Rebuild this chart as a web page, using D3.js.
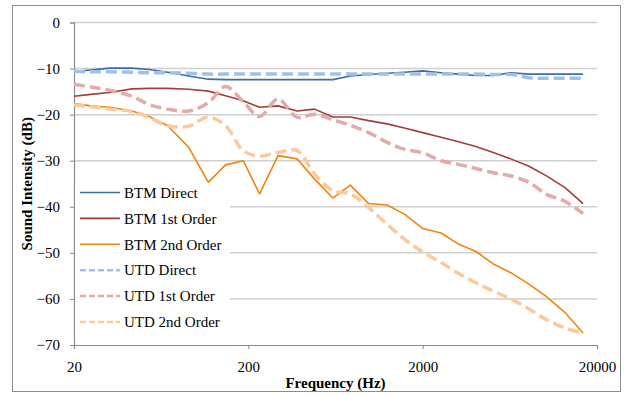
<!DOCTYPE html>
<html>
<head>
<meta charset="utf-8">
<script src="https://cdn.jsdelivr.net/npm/d3@7"></script>
<style>
  body { margin: 0; background: #fff; }
</style>
</head>
<body>
<svg id="chart" width="626" height="395"></svg>
<script>
// frequencies (Hz) of the plotted points
const freqs = [20, 25, 32, 43, 54, 69, 91, 118, 148, 187, 232, 296, 381, 480, 611, 769, 980, 1250, 1570, 2000, 2550, 3210, 4040, 5080, 6400, 8150, 10260, 13060, 16640];

const btmDirect = [-10.6, -10.3, -9.9, -9.9, -10.2, -10.8, -11.6, -12.3, -12.4, -12.4, -12.4, -12.4, -12.4, -12.4, -12.4, -11.6, -11.3, -11.0, -10.8, -10.5, -10.9, -11.2, -11.5, -11.5, -10.9, -11.2, -11.2, -11.2, -11.2];
const btmFirst = [-16.0, -15.6, -15.2, -14.4, -14.3, -14.3, -14.5, -14.9, -15.9, -17.0, -18.4, -18.1, -19.2, -18.8, -20.5, -20.5, -21.3, -22.0, -22.9, -23.9, -24.9, -25.9, -26.9, -28.2, -29.6, -31.2, -33.3, -35.8, -39.3];
const btmSecond = [-17.6, -18.1, -18.4, -19.2, -20.4, -22.4, -27.1, -34.7, -30.9, -30.0, -37.2, -28.9, -29.6, -34.0, -38.1, -35.3, -39.3, -39.6, -41.6, -44.7, -45.7, -48.1, -49.7, -52.4, -54.3, -56.8, -59.5, -62.9, -67.4];
const utdDirect = [-10.6, -10.7, -10.7, -10.8, -10.9, -10.9, -11.0, -11.2, -11.2, -11.2, -11.2, -11.2, -11.2, -11.2, -11.2, -11.2, -11.2, -11.2, -11.2, -11.2, -11.2, -11.2, -11.2, -11.3, -11.3, -12.0, -12.1, -12.1, -12.1];
const utdFirst = [-13.4, -14.0, -14.7, -16.0, -17.8, -18.8, -19.2, -17.4, -13.9, -17.2, -20.4, -16.6, -20.6, -19.9, -21.1, -22.3, -23.9, -26.0, -27.5, -28.3, -30.0, -30.8, -31.7, -32.6, -33.3, -34.7, -37.3, -38.8, -41.5];
const utdSecond = [-17.9, -18.3, -18.8, -19.3, -20.6, -22.4, -22.5, -20.5, -22.4, -27.8, -29.0, -28.2, -27.8, -32.9, -36.5, -37.2, -40.2, -43.8, -47.0, -49.8, -52.1, -54.5, -56.5, -58.3, -60.0, -62.2, -64.5, -66.3, -67.4];

const seriesNames = ['BTM Direct', 'BTM 1st Order', 'BTM 2nd Order', 'UTD Direct', 'UTD 1st Order', 'UTD 2nd Order'];
const xTicks = [20, 200, 2000, 20000];
const yTicks = [0, -10, -20, -30, -40, -50, -60, -70];

const FONT = '"Liberation Serif", "Times New Roman", Times, "DejaVu Serif", serif';

const series = [
  {name: seriesNames[0], values: btmDirect, color: '#3c6da6', width: 1.6, dash: null},
  {name: seriesNames[1], values: btmFirst, color: '#a33d3a', width: 1.6, dash: null},
  {name: seriesNames[2], values: btmSecond, color: '#f0850f', width: 1.6, dash: null},
  {name: seriesNames[3], values: utdDirect, color: '#9dc1e8', width: 3.5, dash: '11,5'},
  {name: seriesNames[4], values: utdFirst, color: '#e3aaa8', width: 3.5, dash: '11,5'},
  {name: seriesNames[5], values: utdSecond, color: '#fcc99c', width: 3.5, dash: '11,5'}
];

const svg = d3.select('#chart');

// chart border
svg.append('rect')
  .attr('x', 12.5).attr('y', 5.5)
  .attr('width', 608).attr('height', 386)
  .attr('fill', '#fff')
  .attr('stroke', '#8c8c8c')
  .attr('stroke-width', 1);

const x = d3.scaleLog().domain([20, 20000]).range([74, 597]);
const y = d3.scaleLinear().domain([-70, 0]).range([345, 22.5]);

// gridlines
svg.append('g')
  .selectAll('line').data(yTicks.filter(d => d > -70))
  .enter().append('line')
  .attr('x1', x(20)).attr('x2', x(20000))
  .attr('y1', d => y(d)).attr('y2', d => y(d))
  .attr('stroke', '#cfcfcf')
  .attr('stroke-width', 1.5);

// axes
const yAxis = svg.append('g')
  .attr('transform', `translate(${x(20)},0)`)
  .call(d3.axisLeft(y).tickValues(yTicks).tickSize(4).tickFormat(d3.format('d')));
const xAxis = svg.append('g')
  .attr('transform', `translate(0,${y(-70)})`)
  .call(d3.axisBottom(x).tickValues(xTicks).tickSize(4).tickFormat(d3.format('d')));

[yAxis, xAxis].forEach(a => {
  a.attr('font-family', FONT).attr('font-size', 15);
  a.select('.domain').attr('stroke', '#8a8a8a').attr('stroke-width', 1.2);
  a.selectAll('.tick line').attr('stroke', '#8a8a8a');
  a.selectAll('.tick text').attr('fill', '#000');
});
yAxis.selectAll('.tick text').attr('x', -14);
xAxis.selectAll('.tick text').attr('y', 16);

// legend box (white, hides gridlines behind it)
const legend = svg.append('g').attr('font-family', FONT);
legend.append('rect')
  .attr('x', 75).attr('y', 178)
  .attr('width', 155).attr('height', 162)
  .attr('fill', '#fff');

// lines
const line = d3.line()
  .x((d, i) => x(freqs[i]))
  .y(d => y(d));

series.forEach(s => {
  svg.append('path')
    .datum(s.values)
    .attr('fill', 'none')
    .attr('stroke', s.color)
    .attr('stroke-width', s.width)
    .attr('stroke-dasharray', s.dash)
    .attr('stroke-linejoin', 'round')
    .attr('d', line.curve(s.dash ? d3.curveCatmullRom : d3.curveLinear));
});

// legend entries
const rowY = d3.scalePoint().domain(seriesNames).range([192.5, 322]);
const items = legend.selectAll('g.item').data(series)
  .enter().append('g')
  .attr('transform', d => `translate(0,${rowY(d.name)})`);
items.append('line')
  .attr('x1', 80).attr('x2', 120)
  .attr('stroke', d => d.color)
  .attr('stroke-width', d => d.dash ? 2.5 : 1.6)
  .attr('stroke-dasharray', d => d.dash ? '6,3' : null);
items.append('text')
  .attr('x', 124).attr('dy', '0.35em')
  .attr('font-size', 15)
  .text(d => d.name);

// axis titles
svg.append('text')
  .attr('x', (x(20) + x(20000)) / 2).attr('y', 388)
  .attr('text-anchor', 'middle')
  .attr('font-family', FONT)
  .attr('font-size', 15).attr('font-weight', 'bold')
  .text('Frequency (Hz)');
svg.append('text')
  .attr('transform', `translate(32,${(y(0) + y(-70)) / 2}) rotate(-90)`)
  .attr('text-anchor', 'middle')
  .attr('font-family', FONT)
  .attr('font-size', 15).attr('font-weight', 'bold')
  .text('Sound Intensity (dB)');
</script>
</body>
</html>
